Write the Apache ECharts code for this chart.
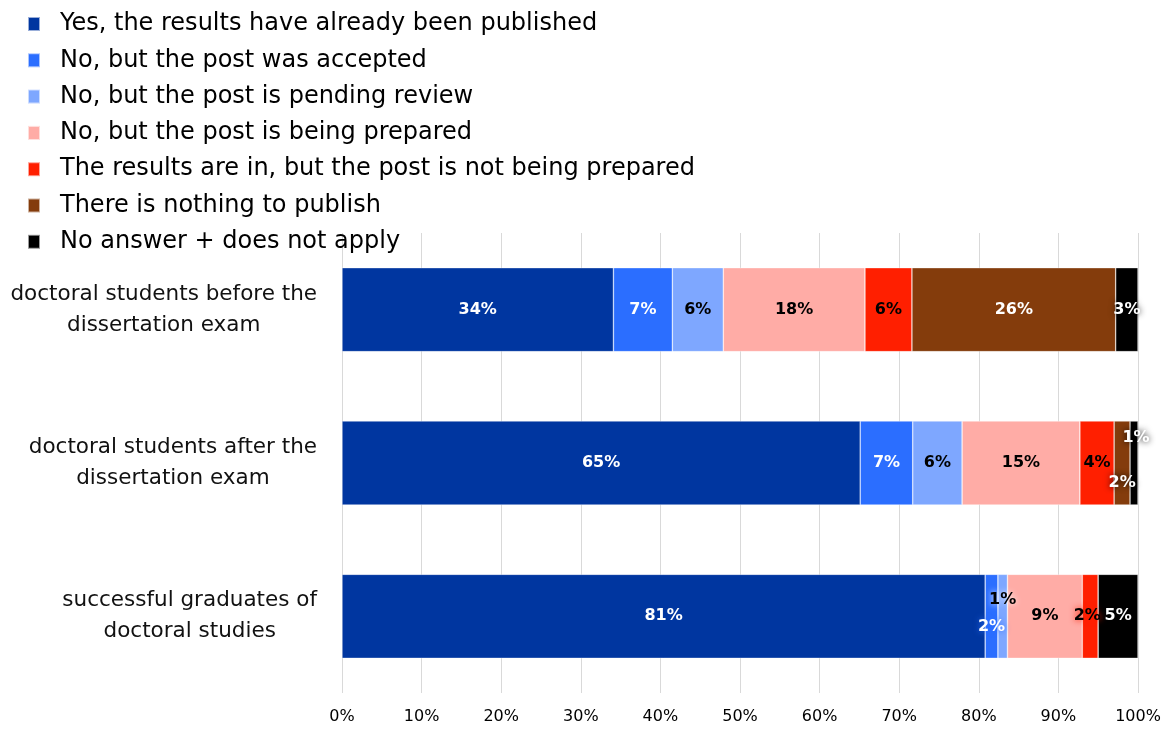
<!DOCTYPE html>
<html>
<head>
<meta charset="utf-8">
<script src="https://cdn.jsdelivr.net/npm/echarts@6/dist/echarts.min.js"></script>
<style>
html,body{margin:0;padding:0;background:#fff;}
#chart{width:1165px;height:729px;}
</style>
</head>
<body>
<div id="chart"></div>
<script>
var categories = [
  'doctoral students before the\ndissertation exam',
  'doctoral students after the\ndissertation exam',
  'successful graduates of\ndoctoral studies'
];
var seriesNames = [
  'Yes, the results have already been published',
  'No, but the post was accepted',
  'No, but the post is pending review',
  'No, but the post is being prepared',
  'The results are in, but the post is not being prepared',
  'There is nothing to publish',
  'No answer + does not apply'
];
var published      = [34.1, 65.1, 80.8];
var accepted       = [7.4, 6.6, 1.6];
var pendingReview  = [6.4, 6.2, 1.2];
var beingPrepared  = [17.8, 14.8, 9.4];
var notPrepared    = [5.9, 4.3, 2.0];
var nothingToPub   = [25.6, 2.0, 0];
var noAnswer       = [2.8, 1.0, 5.0];
var xTickLabels = ['0%','10%','20%','30%','40%','50%','60%','70%','80%','90%','100%'];

var allValues = [published, accepted, pendingReview, beingPrepared, notPrepared, nothingToPub, noAnswer];
var colors = ['#0036a0', '#2b6eff', '#7ea7ff', '#ffaca6', '#ff1f00', '#843c0c', '#000000'];
var labelColors = ['#fff', '#fff', '#000', '#000', '#000', '#fff', '#fff'];

// per-segment label style overrides [seriesIndex-categoryIndex]
var labelOverrides = {
  '6-0': {textShadowColor: 'rgba(0,0,0,0.9)', textShadowBlur: 6},
  '5-1': {offset: [0, 20], textShadowColor: 'rgba(0,0,0,0.9)', textShadowBlur: 6},
  '6-1': {offset: [2, -25], textShadowColor: 'rgba(0,0,0,0.9)', textShadowBlur: 6},
  '1-2': {offset: [0, 11], textShadowColor: '#2b6eff', textShadowBlur: 6},
  '2-2': {offset: [0, -16], textShadowColor: '#ffffff', textShadowBlur: 6},
  '4-2': {offset: [-3, 0], textShadowColor: '#ff1f00', textShadowBlur: 6}
};

var FONT = '"DejaVu Sans", "Noto Sans", sans-serif';

var series = allValues.map(function (vals, si) {
  return {
    name: seriesNames[si],
    type: 'bar',
    stack: 'total',
    barWidth: 84,
    itemStyle: {color: colors[si], borderColor: 'rgba(255,255,255,0.6)', borderWidth: 0.6},
    label: {
      show: true,
      position: 'inside',
      color: labelColors[si],
      fontFamily: FONT,
      fontWeight: 'bold',
      fontSize: 16,
      formatter: function (p) { return p.value > 0 ? Math.round(p.value) + '%' : ''; }
    },
    data: vals.map(function (v, ci) {
      var o = labelOverrides[si + '-' + ci];
      var item = {value: v};
      if (o) item.label = o;
      return item;
    })
  };
});

var chart = echarts.init(document.getElementById('chart'));
chart.setOption({
  animation: false,
  color: colors,
  legend: {
    orient: 'vertical',
    left: 22,
    top: 7,
    itemWidth: 12,
    itemHeight: 14,
    itemGap: 12.3,
    icon: 'rect',
    textStyle: {fontFamily: FONT, fontSize: 24, lineHeight: 24, color: '#000', padding: [0, 0, 0, 15]},
    data: seriesNames
  },
  grid: {left: 342, right: 27, top: 233, bottom: 36, containLabel: false},
  xAxis: {
    type: 'value',
    min: 0,
    max: 100,
    interval: 10,
    axisLine: {show: false},
    axisTick: {show: false},
    splitLine: {lineStyle: {color: '#d9d9d9', width: 1}},
    axisLabel: {
      fontFamily: FONT, fontSize: 16, color: '#000', margin: 16,
      formatter: function (v) { return xTickLabels[Math.round(v / 10)]; }
    }
  },
  yAxis: {
    type: 'category',
    inverse: true,
    data: categories,
    axisLine: {show: false},
    axisTick: {show: false},
    axisLabel: {
      margin: 25,
      align: 'right',
      formatter: function (v) {
        return v.split('\n').map(function (l) { return '{c|' + l + '}'; }).join('\n');
      },
      rich: {
        c: {fontFamily: FONT, fontSize: 21.5, color: '#111', align: 'center', lineHeight: 31}
      }
    }
  },
  series: series
});
</script>
</body>
</html>
